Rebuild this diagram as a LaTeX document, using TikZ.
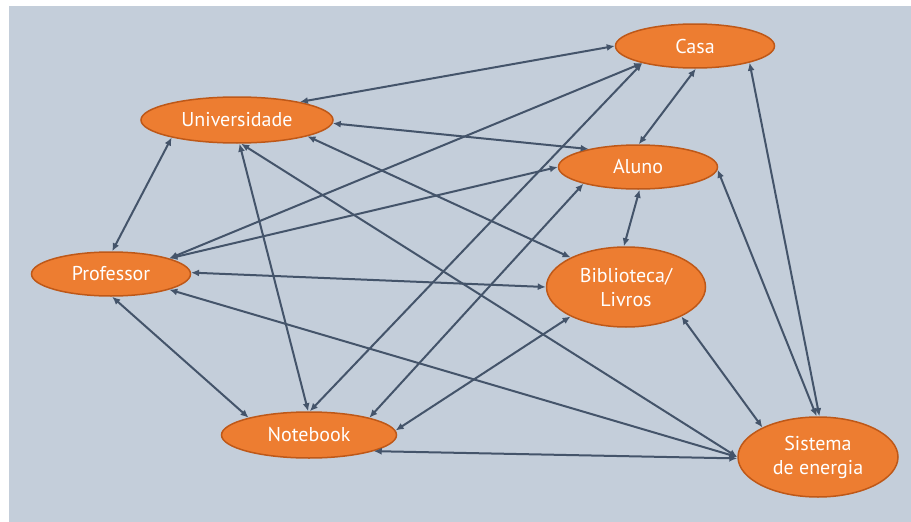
\documentclass[tikz,border=0pt]{standalone}
\usepackage{fontspec}
\setmainfont{PT Sans}
\usepackage{xcolor}
\usepackage{tikz}
\usetikzlibrary{arrows.meta,shapes.geometric}
\definecolor{bgslate}{RGB}{196,206,218}
\definecolor{placeorange}{RGB}{237,125,49}
\definecolor{placeborder}{RGB}{190,88,24}
\definecolor{linkslate}{RGB}{68,84,106}

\begin{document}
\begin{tikzpicture}%
                    [x=1pt, y=-1pt,
                    place/.style={ellipse, draw=placeborder, line width=1.5pt, fill=placeorange,
                                  text=white, inner sep=0pt, minimum width=159pt, minimum height=44pt,
                                  align=center, font=\fontsize{20}{24}\selectfont},
                    link/.style={color=linkslate, line width=2pt,
                                 {Latex[length=8pt,width=7pt]}-{Latex[length=8pt,width=7pt]}}]
                \useasboundingbox (0,0) rectangle (911,522);
                \fill[bgslate] (9,6) rectangle (911,522);
                %%
                %% Drawing the places
                %%
                \node[place] (casa) at (695,46) {Casa};
                \node[place, minimum width=192pt, minimum height=46pt] (univ) at (237,120) {Universidade};
                \node[place] (aluno) at (638,167) {Aluno};
                \node[place] (prof) at (111,274) {Professor};
                \node[place, minimum height=80pt] (bib) at (626,287) {Biblioteca/\\Livros};
                \node[place, minimum width=175pt, minimum height=46pt] (note) at (309,435) {Notebook};
                \node[place, minimum width=160pt, minimum height=80pt] (sis) at (818,457) {Sistema\\de energia};

                %% Links from Universidade
                \draw[link] (univ.16) -- (casa.180);
                \draw[link] (univ.-2) -- (aluno.160);
                \draw[link] (univ.-13) -- (bib.152);
                \draw[link] (univ.195) -- (prof.87);
                \draw[link] (univ.-84) -- (note.92);
                \draw[link] (univ.-80) -- (sis.180);
                %% Links from Professor
                \draw[link] (prof.15) -- (casa.198);
                \draw[link] (prof.15) -- (aluno.180);
                \draw[link] (prof.1) -- (bib.180);
                \draw[link] (prof.-87) -- (note.164);
                \draw[link] (prof.-15) -- (sis.180);
                %% Links from Notebook
                \draw[link] (note.88) -- (casa.198);
                \draw[link] (note.16) -- (aluno.197);
                \draw[link] (note.3) -- (bib.208);
                \draw[link] (note.-14) -- (sis.181);
                %% Links on the right
                \draw[link] (aluno.88) -- (casa.-88);
                \draw[link] (aluno.-86) -- (bib.93);
                \draw[link] (aluno.-2) -- (sis.92);
                \draw[link] (bib.-28) -- (sis.152);
                \draw[link] (casa.-17) -- (sis.88);
                \end{tikzpicture}
\end{document}
